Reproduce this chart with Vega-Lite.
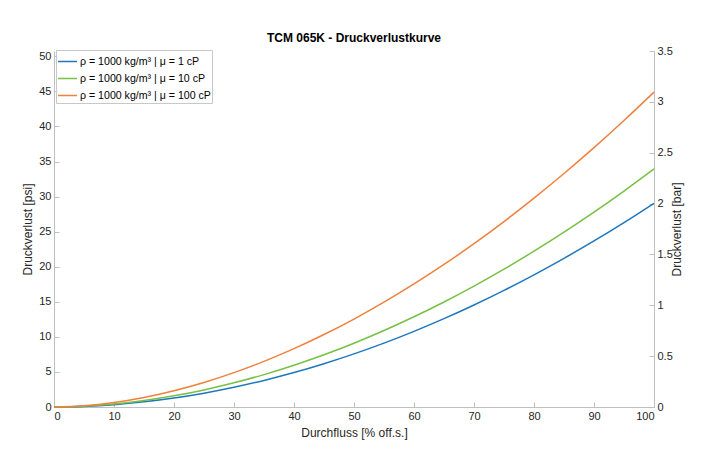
{
  "$schema": "https://vega.github.io/schema/vega-lite/v6.json",
  "autosize": {"type": "none"},
  "width": 600,
  "height": 356,
  "padding": {"left": 54, "top": 51, "right": 47, "bottom": 51},
  "background": "white",
  "config": {
    "font": "Liberation Sans",
    "view": {"stroke": null},
    "axis": {
      "grid": false,
      "domainColor": "#bfbfbf",
      "tickColor": "#bfbfbf",
      "tickSize": -5,
      "labelColor": "#262626",
      "titleColor": "#262626",
      "labelFontSize": 11,
      "titleFontSize": 12,
      "titleFontWeight": "normal",
      "labelFont": "Liberation Sans",
      "titleFont": "Liberation Sans"
    }
  },
  "title": {
    "text": "TCM 065K - Druckverlustkurve",
    "fontSize": 12,
    "fontWeight": "bold",
    "color": "#000000",
    "font": "Liberation Sans",
    "offset": 0,
    "anchor": "middle"
  },
  "datasets": {
    "curves": [
      {"x": 0, "psi": 0, "s": "ρ = 1000 kg/m³ | μ = 1 cP"},
      {"x": 5, "psi": 0.087, "s": "ρ = 1000 kg/m³ | μ = 1 cP"},
      {"x": 10, "psi": 0.334, "s": "ρ = 1000 kg/m³ | μ = 1 cP"},
      {"x": 15, "psi": 0.732, "s": "ρ = 1000 kg/m³ | μ = 1 cP"},
      {"x": 20, "psi": 1.28, "s": "ρ = 1000 kg/m³ | μ = 1 cP"},
      {"x": 25, "psi": 1.973, "s": "ρ = 1000 kg/m³ | μ = 1 cP"},
      {"x": 30, "psi": 2.811, "s": "ρ = 1000 kg/m³ | μ = 1 cP"},
      {"x": 35, "psi": 3.79, "s": "ρ = 1000 kg/m³ | μ = 1 cP"},
      {"x": 40, "psi": 4.91, "s": "ρ = 1000 kg/m³ | μ = 1 cP"},
      {"x": 45, "psi": 6.172, "s": "ρ = 1000 kg/m³ | μ = 1 cP"},
      {"x": 50, "psi": 7.572, "s": "ρ = 1000 kg/m³ | μ = 1 cP"},
      {"x": 55, "psi": 9.109, "s": "ρ = 1000 kg/m³ | μ = 1 cP"},
      {"x": 60, "psi": 10.783, "s": "ρ = 1000 kg/m³ | μ = 1 cP"},
      {"x": 65, "psi": 12.594, "s": "ρ = 1000 kg/m³ | μ = 1 cP"},
      {"x": 70, "psi": 14.542, "s": "ρ = 1000 kg/m³ | μ = 1 cP"},
      {"x": 75, "psi": 16.625, "s": "ρ = 1000 kg/m³ | μ = 1 cP"},
      {"x": 80, "psi": 18.845, "s": "ρ = 1000 kg/m³ | μ = 1 cP"},
      {"x": 85, "psi": 21.195, "s": "ρ = 1000 kg/m³ | μ = 1 cP"},
      {"x": 90, "psi": 23.678, "s": "ρ = 1000 kg/m³ | μ = 1 cP"},
      {"x": 95, "psi": 26.299, "s": "ρ = 1000 kg/m³ | μ = 1 cP"},
      {"x": 100, "psi": 29.05, "s": "ρ = 1000 kg/m³ | μ = 1 cP"},
      {"x": 0, "psi": 0, "s": "ρ = 1000 kg/m³ | μ = 10 cP"},
      {"x": 5, "psi": 0.115, "s": "ρ = 1000 kg/m³ | μ = 10 cP"},
      {"x": 10, "psi": 0.427, "s": "ρ = 1000 kg/m³ | μ = 10 cP"},
      {"x": 15, "psi": 0.923, "s": "ρ = 1000 kg/m³ | μ = 10 cP"},
      {"x": 20, "psi": 1.595, "s": "ρ = 1000 kg/m³ | μ = 10 cP"},
      {"x": 25, "psi": 2.437, "s": "ρ = 1000 kg/m³ | μ = 10 cP"},
      {"x": 30, "psi": 3.447, "s": "ρ = 1000 kg/m³ | μ = 10 cP"},
      {"x": 35, "psi": 4.62, "s": "ρ = 1000 kg/m³ | μ = 10 cP"},
      {"x": 40, "psi": 5.954, "s": "ρ = 1000 kg/m³ | μ = 10 cP"},
      {"x": 45, "psi": 7.447, "s": "ρ = 1000 kg/m³ | μ = 10 cP"},
      {"x": 50, "psi": 9.097, "s": "ρ = 1000 kg/m³ | μ = 10 cP"},
      {"x": 55, "psi": 10.903, "s": "ρ = 1000 kg/m³ | μ = 10 cP"},
      {"x": 60, "psi": 12.864, "s": "ρ = 1000 kg/m³ | μ = 10 cP"},
      {"x": 65, "psi": 14.975, "s": "ρ = 1000 kg/m³ | μ = 10 cP"},
      {"x": 70, "psi": 17.24, "s": "ρ = 1000 kg/m³ | μ = 10 cP"},
      {"x": 75, "psi": 19.655, "s": "ρ = 1000 kg/m³ | μ = 10 cP"},
      {"x": 80, "psi": 22.22, "s": "ρ = 1000 kg/m³ | μ = 10 cP"},
      {"x": 85, "psi": 24.931, "s": "ρ = 1000 kg/m³ | μ = 10 cP"},
      {"x": 90, "psi": 27.787, "s": "ρ = 1000 kg/m³ | μ = 10 cP"},
      {"x": 95, "psi": 30.796, "s": "ρ = 1000 kg/m³ | μ = 10 cP"},
      {"x": 100, "psi": 33.95, "s": "ρ = 1000 kg/m³ | μ = 10 cP"},
      {"x": 0, "psi": 0, "s": "ρ = 1000 kg/m³ | μ = 100 cP"},
      {"x": 5, "psi": 0.181, "s": "ρ = 1000 kg/m³ | μ = 100 cP"},
      {"x": 10, "psi": 0.649, "s": "ρ = 1000 kg/m³ | μ = 100 cP"},
      {"x": 15, "psi": 1.369, "s": "ρ = 1000 kg/m³ | μ = 100 cP"},
      {"x": 20, "psi": 2.324, "s": "ρ = 1000 kg/m³ | μ = 100 cP"},
      {"x": 25, "psi": 3.503, "s": "ρ = 1000 kg/m³ | μ = 100 cP"},
      {"x": 30, "psi": 4.899, "s": "ρ = 1000 kg/m³ | μ = 100 cP"},
      {"x": 35, "psi": 6.508, "s": "ρ = 1000 kg/m³ | μ = 100 cP"},
      {"x": 40, "psi": 8.319, "s": "ρ = 1000 kg/m³ | μ = 100 cP"},
      {"x": 45, "psi": 10.332, "s": "ρ = 1000 kg/m³ | μ = 100 cP"},
      {"x": 50, "psi": 12.542, "s": "ρ = 1000 kg/m³ | μ = 100 cP"},
      {"x": 55, "psi": 14.946, "s": "ρ = 1000 kg/m³ | μ = 100 cP"},
      {"x": 60, "psi": 17.541, "s": "ρ = 1000 kg/m³ | μ = 100 cP"},
      {"x": 65, "psi": 20.323, "s": "ρ = 1000 kg/m³ | μ = 100 cP"},
      {"x": 70, "psi": 23.292, "s": "ρ = 1000 kg/m³ | μ = 100 cP"},
      {"x": 75, "psi": 26.445, "s": "ρ = 1000 kg/m³ | μ = 100 cP"},
      {"x": 80, "psi": 29.784, "s": "ρ = 1000 kg/m³ | μ = 100 cP"},
      {"x": 85, "psi": 33.296, "s": "ρ = 1000 kg/m³ | μ = 100 cP"},
      {"x": 90, "psi": 36.986, "s": "ρ = 1000 kg/m³ | μ = 100 cP"},
      {"x": 95, "psi": 40.855, "s": "ρ = 1000 kg/m³ | μ = 100 cP"},
      {"x": 100, "psi": 44.9, "s": "ρ = 1000 kg/m³ | μ = 100 cP"}
    ],
    "barAxis": [
      {"bar": 0},
      {"bar": 3.5}
    ]
  },
  "layer": [
    {
      "data": {"name": "curves"},
      "mark": {"type": "line", "strokeWidth": 1.5, "interpolate": "monotone"},
      "encoding": {
        "x": {
          "field": "x",
          "type": "quantitative",
          "scale": {"domain": [0, 100], "nice": false},
          "axis": {
            "title": "Durchfluss [% off.s.]",
            "values": [0, 10, 20, 30, 40, 50, 60, 70, 80, 90, 100],
            "labelPadding": 8,
            "titlePadding": 6
          }
        },
        "y": {
          "field": "psi",
          "type": "quantitative",
          "scale": {"domain": [0, 50.763], "nice": false},
          "axis": {
            "title": "Druckverlust [psi]",
            "values": [0, 5, 10, 15, 20, 25, 30, 35, 40, 45, 50],
            "labelPadding": 8,
            "titlePadding": 4
          }
        },
        "color": {
          "field": "s",
          "type": "nominal",
          "scale": {
            "domain": ["ρ = 1000 kg/m³ | μ = 1 cP", "ρ = 1000 kg/m³ | μ = 10 cP", "ρ = 1000 kg/m³ | μ = 100 cP"],
            "range": ["#1f77bd", "#77c043", "#f0803c"]
          },
          "legend": {
            "title": null,
            "orient": "none",
            "legendX": 2,
            "legendY": -1,
            "symbolType": "stroke",
            "symbolSize": 361,
            "symbolStrokeWidth": 1.5,
            "labelFontSize": 10.6,
            "labelColor": "#000000",
            "labelFont": "Liberation Sans",
            "strokeColor": "#c8c8c8",
            "fillColor": "white",
            "padding": 1,
            "rowPadding": 0,
            "labelOffset": 2
          }
        }
      }
    },
    {
      "data": {"name": "barAxis"},
      "mark": {"type": "point", "opacity": 0},
      "encoding": {
        "y": {
          "field": "bar",
          "type": "quantitative",
          "scale": {"domain": [0, 3.5], "nice": false},
          "axis": {
            "orient": "right",
            "title": "Druckverlust [bar]",
            "titleAngle": 270,
            "format": "~g",
            "values": [0, 0.5, 1, 1.5, 2, 2.5, 3, 3.5],
            "labelPadding": 8,
            "titlePadding": 11
          }
        }
      }
    }
  ],
  "resolve": {"scale": {"y": "independent"}}
}
